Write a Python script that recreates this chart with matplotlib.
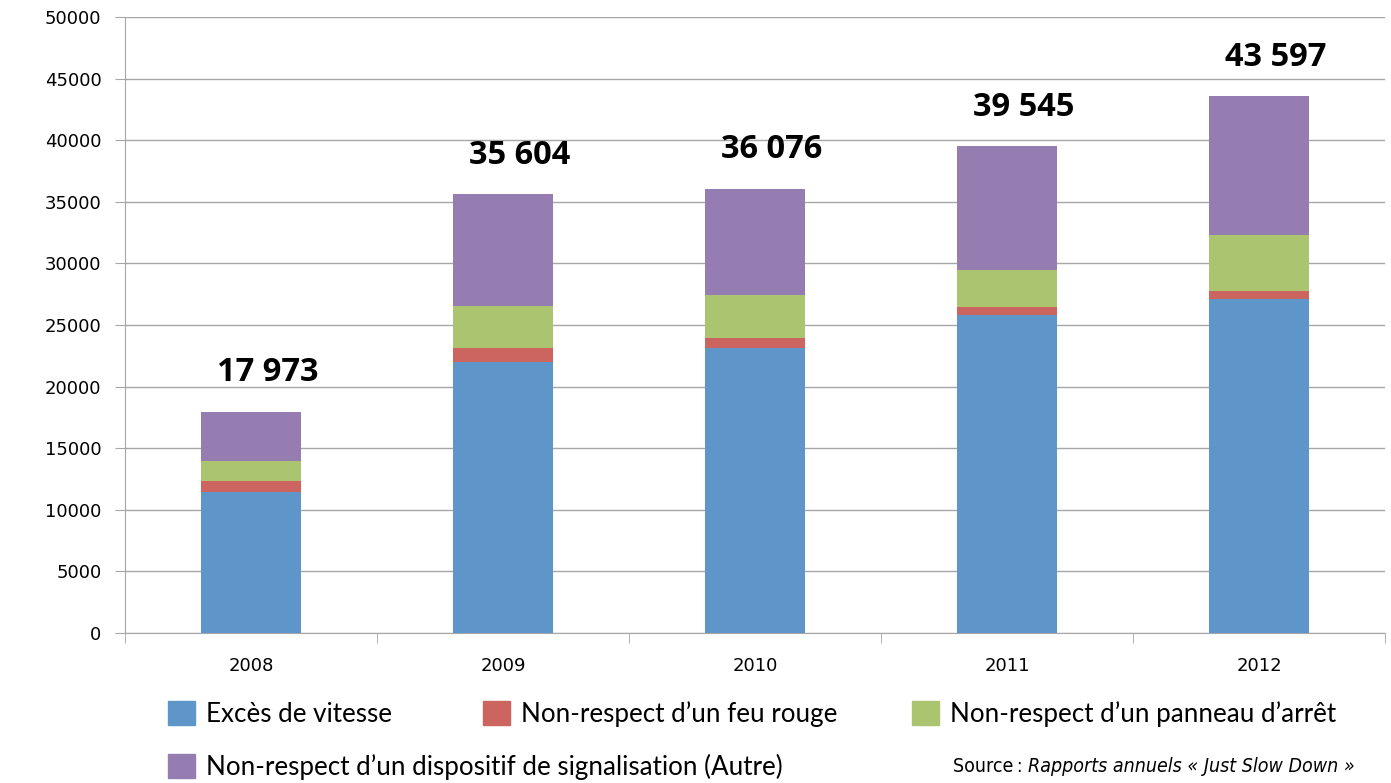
import matplotlib.pyplot as plt
import numpy as np
from matplotlib.patches import Patch

years = ["2008", "2009", "2010", "2011", "2012"]
totals = [17973, 35604, 36076, 39545, 43597]
vitesse = [11480, 21970, 23110, 25790, 27110]
feu_rouge = [830, 1140, 835, 670, 680]
panneau = [1620, 3465, 3466, 3036, 4490]
autre = [t - a - b - c for t, a, b, c in zip(totals, vitesse, feu_rouge, panneau)]

labels = [
    "Excès de vitesse",
    "Non-respect d\u2019un feu rouge",
    "Non-respect d\u2019un panneau d\u2019arrêt",
    "Non-respect d\u2019un dispositif de signalisation (Autre)",
]
colors = ["#5E96CA", "#CC6560", "#ABC46F", "#957DB2"]

plt.rcParams["font.family"] = ["Lato", "DejaVu Sans"]

fig = plt.figure(figsize=(13.91, 7.83), dpi=100)
ax = fig.add_axes([125 / 1391, 1 - 633 / 783, 1260 / 1391, 616 / 783])

x = np.arange(len(years))
bottom = np.zeros(len(years))
for vals, col in zip([vitesse, feu_rouge, panneau, autre], colors):
    ax.bar(x, vals, width=0.4, bottom=bottom, color=col, zorder=3)
    bottom += np.array(vals)

# totals sit a little right of the bar centres, as in the original
for xi, t in zip(x, totals):
    ax.annotate(f"{t:,}".replace(",", " "), (xi, t), xytext=(12, 16),
                textcoords="offset points", ha="center", va="bottom",
                fontsize=23.5, fontweight="bold", family=["Open Sans", "DejaVu Sans"])

grid_c = "#A6A6A6"
ax.set_xlim(-0.5, 4.5)
ax.set_ylim(0, 50000)
ax.set_yticks(np.arange(0, 50001, 5000))
ax.yaxis.grid(True, color=grid_c, linewidth=1, zorder=0)
ax.set_xticks(x)
ax.set_xticklabels(years)
ax.set_xticks(np.arange(-0.5, 5, 1), minor=True)
ax.tick_params(axis="x", which="major", length=0, pad=17, labelsize=13)
ax.tick_params(axis="x", which="minor", length=7, color=grid_c)
ax.tick_params(axis="y", length=7, color=grid_c, labelsize=13, pad=10)
for lab in ax.get_xticklabels() + ax.get_yticklabels():
    lab.set_family("DejaVu Sans")
for s in ["top", "right"]:
    ax.spines[s].set_visible(False)
for s in ["left", "bottom"]:
    ax.spines[s].set_color(grid_c)

# legend entries placed individually
legend_pos = [(168, 714), (483, 714), (912, 714), (168, 767)]
for lab, col, (px, py) in zip(labels, colors, legend_pos):
    fig.legend(handles=[Patch(color=col, label=lab)], loc="center left",
               bbox_to_anchor=(px / 1391, 1 - py / 783), frameon=False,
               fontsize=18.7, handlelength=1.05, handleheight=1.05,
               handletextpad=0.4, borderpad=0, borderaxespad=0)

src = fig.text(1355 / 1391, 1 - 767 / 783,
               "Rapports annuels « Just Slow Down »", ha="right", va="center",
               fontsize=14, style="italic", fontstretch="condensed",
               family="DejaVu Sans")
fig.canvas.draw()
bb = src.get_window_extent(fig.canvas.get_renderer())
fig.text(bb.x0 / fig.bbox.width, 1 - 767 / 783, "Source\u2009: ", ha="right",
         va="center", fontsize=14, fontstretch="condensed",
         family="DejaVu Sans")

fig.savefig("out.png", dpi=100)
